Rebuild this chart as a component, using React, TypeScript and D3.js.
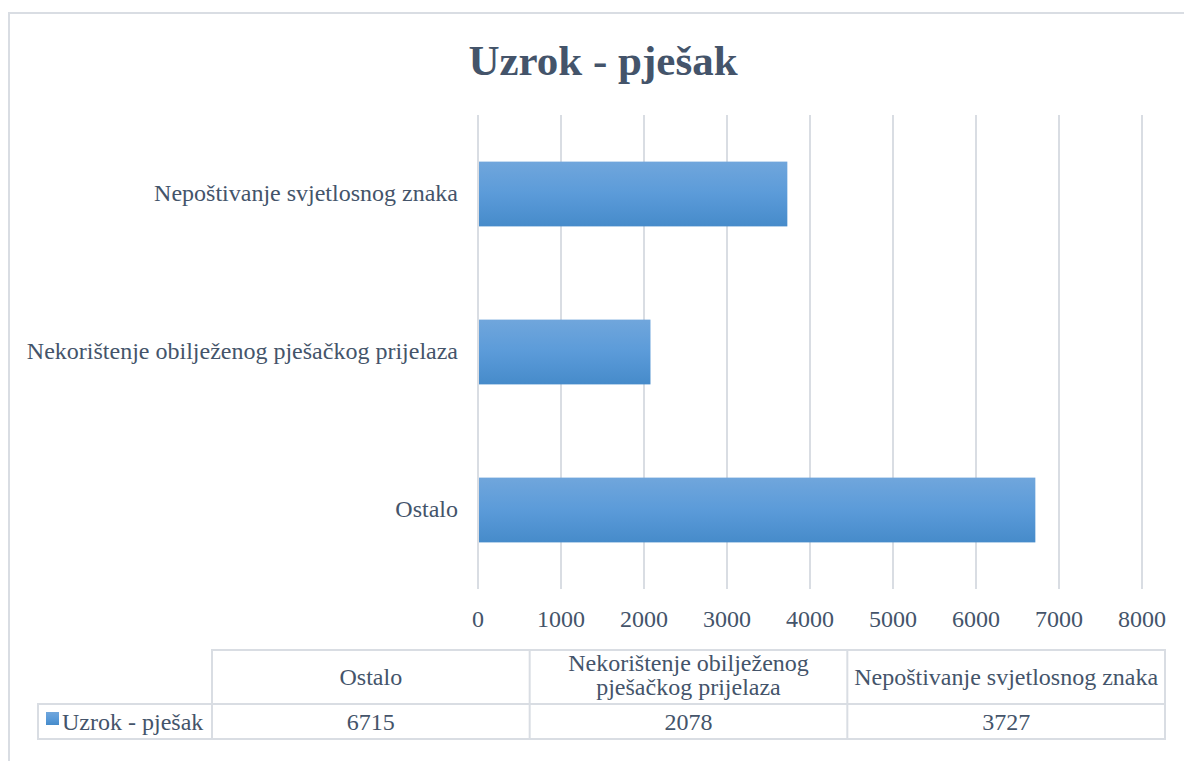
import React, { useEffect, useRef } from "react"
import * as d3 from "d3"

const categories = ["Ostalo", "Nekorištenje obilježenog pješačkog prijelaza", "Nepoštivanje svjetlosnog znaka"]
const values = [6715, 2078, 3727]
const tickValues = [0, 1000, 2000, 3000, 4000, 5000, 6000, 7000, 8000]
const seriesName = "Uzrok - pješak"
const tableHeaders = ["Ostalo", ["Nekorištenje obilježenog", "pješačkog prijelaza"], "Nepoštivanje svjetlosnog znaka"]

const W = 1184
const H = 761
const textColor = "#44546A"
const gridColor = "#D9DDE3"
const font = "'Liberation Serif', 'Times New Roman', serif"

export default function App() {
  const ref = useRef<SVGSVGElement>(null)

  useEffect(() => {
    const svg = d3.select(ref.current)
    svg.selectAll("*").remove()

    const defs = svg.append("defs")
    const grad = defs.append("linearGradient").attr("id", "barGrad").attr("x1", 0).attr("y1", 0).attr("x2", 0).attr("y2", 1)
    grad.append("stop").attr("offset", "0%").attr("stop-color", "#70A6DC")
    grad.append("stop").attr("offset", "50%").attr("stop-color", "#5B9BD9")
    grad.append("stop").attr("offset", "100%").attr("stop-color", "#468BCA")

    // outer frame (runs off the right / bottom edge)
    svg.append("rect")
      .attr("x", 9).attr("y", 13).attr("width", W + 20).attr("height", H + 20)
      .attr("fill", "white").attr("stroke", gridColor).attr("stroke-width", 2)

    svg.append("text")
      .attr("x", 603).attr("y", 75)
      .attr("text-anchor", "middle")
      .attr("font-family", font).attr("font-size", 43).attr("font-weight", "bold")
      .attr("fill", textColor)
      .text(seriesName)

    const x = d3.scaleLinear().domain([0, 8000]).range([478, 1142])
    const y = d3.scaleBand().domain(categories.slice().reverse()).range([115, 589]).paddingInner(0.59).paddingOuter(0.295)

    // grid
    svg.append("g")
      .selectAll("line")
      .data(tickValues)
      .join("line")
      .attr("x1", d => x(d)).attr("x2", d => x(d))
      .attr("y1", 115).attr("y2", 589)
      .attr("stroke", gridColor).attr("stroke-width", 2)

    // bars
    svg.append("g")
      .selectAll("rect")
      .data(categories)
      .join("rect")
      .attr("x", x(0) + 1)
      .attr("y", d => y(d)!)
      .attr("width", (d, i) => x(values[i]) - x(0) - 1)
      .attr("height", y.bandwidth())
      .attr("fill", "url(#barGrad)")

    // category labels
    svg.append("g")
      .attr("font-family", font).attr("font-size", 24).attr("fill", textColor)
      .attr("text-anchor", "end")
      .selectAll("text")
      .data(categories)
      .join("text")
      .attr("x", 458)
      .attr("y", d => y(d)! + y.bandwidth() / 2)
      .attr("dy", "0.3em")
      .text(d => d)

    // x tick labels
    svg.append("g")
      .attr("font-family", font).attr("font-size", 24).attr("fill", textColor)
      .attr("text-anchor", "middle")
      .selectAll("text")
      .data(tickValues)
      .join("text")
      .attr("x", d => x(d))
      .attr("y", 627)
      .text(d => String(d))

    // data table
    const tLeft = 212
    const tRight = 1165
    const colW = (tRight - tLeft) / categories.length
    const top = 650
    const mid = 704
    const bottom = 739
    const legendLeft = 38
    const tbl = svg.append("g").attr("stroke", gridColor).attr("stroke-width", 2).attr("fill", "none")
    tbl.append("rect").attr("x", tLeft).attr("y", top).attr("width", tRight - tLeft).attr("height", bottom - top)
    tbl.append("rect").attr("x", legendLeft).attr("y", mid).attr("width", tLeft - legendLeft).attr("height", bottom - mid)
    tbl.append("line").attr("x1", tLeft).attr("x2", tRight).attr("y1", mid).attr("y2", mid)
    tbl.selectAll("line.col")
      .data(d3.range(1, categories.length))
      .join("line")
      .attr("class", "col")
      .attr("x1", i => tLeft + i * colW).attr("x2", i => tLeft + i * colW)
      .attr("y1", top).attr("y2", bottom)

    const tt = svg.append("g").attr("font-family", font).attr("font-size", 24).attr("fill", textColor).attr("text-anchor", "middle")
    tableHeaders.forEach((h, i) => {
      const cx = tLeft + (i + 0.5) * colW
      if (Array.isArray(h)) {
        tt.append("text").attr("x", cx).attr("y", 671).text(h[0])
        tt.append("text").attr("x", cx).attr("y", 695).text(h[1])
      } else {
        tt.append("text").attr("x", cx).attr("y", 685).text(h)
      }
    })
    values.forEach((v, i) => {
      tt.append("text").attr("x", tLeft + (i + 0.5) * colW).attr("y", 730).text(String(v))
    })

    svg.append("rect").attr("x", 46).attr("y", 712).attr("width", 13).attr("height", 13).attr("fill", "url(#barGrad)")
    svg.append("text")
      .attr("x", 62).attr("y", 730)
      .attr("font-family", font).attr("font-size", 24).attr("fill", textColor)
      .text(seriesName)
  }, [])

  return (
    <svg ref={ref} width={W} height={H} style={{ position: "absolute", left: 0, top: 0, background: "white" }} />
  )
}
